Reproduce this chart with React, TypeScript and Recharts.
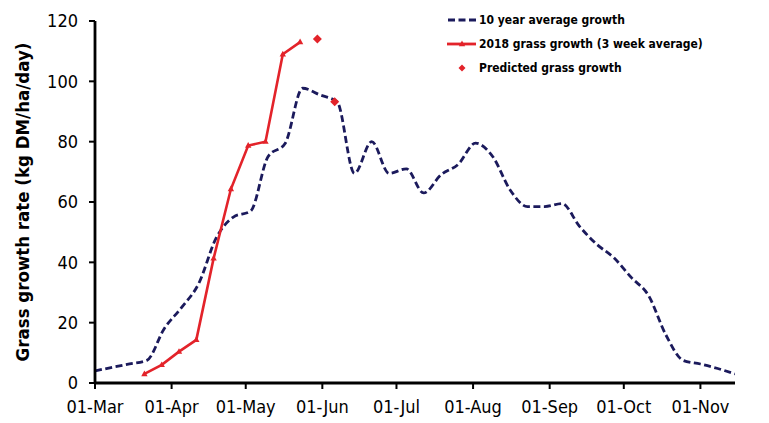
import React from 'react';
import { ComposedChart, Line, XAxis, YAxis } from 'recharts';

// x values are days counted from 01-Mar
const monthTicks = [0, 31, 61, 92, 122, 153, 184, 214, 245];
const monthLabels = ['01-Mar', '01-Apr', '01-May', '01-Jun', '01-Jul', '01-Aug', '01-Sep', '01-Oct', '01-Nov'];
const growthTicks = [0, 20, 40, 60, 80, 100, 120];

// 10 year average, weekly
const avgDays = [
  0, 7, 14, 21, 28, 35, 42, 49, 56, 63, 70, 77, 84, 91, 98, 105, 112, 119, 126,
  133, 140, 147, 154, 161, 168, 175, 182, 189, 196, 203, 210, 217, 224, 231, 238, 245, 252, 259,
];
const avgGrowth = [
  4, 5.2, 6.3, 7.5, 18, 25, 33, 48, 55, 57, 75, 79.5, 97.7, 95.5, 93.2, 69.5, 80, 69.5, 71,
  63, 69, 72.5, 79.5, 75, 64, 58.5, 58.5, 59.5, 52, 46, 41.5, 35, 29, 16, 7.5, 6.3, 4.8, 3,
];

// 2018, 3 week average
const days2018 = [20, 27, 34, 41, 48, 55, 62, 69, 76, 83];
const growth2018 = [3, 6, 10.4, 14.3, 41.3, 64.3, 78.7, 80, 109, 113];

// predicted
const predictedDays = [90, 97];
const predictedGrowth = [114, 93.2];

const avgData = avgDays.map((d, i) => ({ day: d, v: avgGrowth[i] }));
const data2018 = days2018.map((d, i) => ({ day: d, v: growth2018[i] }));
const predData = predictedDays.map((d, i) => ({ day: d, v: predictedGrowth[i] }));

const NAVY = '#1b1a5c';
const RED = '#e3232a';
const FONT = "'DejaVu Sans Condensed', 'DejaVu Sans', sans-serif";

const Triangle = (props: any) => {
  const { cx, cy, index } = props;
  if (cx == null || cy == null) return null;
  return <path key={`t-${index}`} d={`M${cx},${cy - 3.5} L${cx + 3.2},${cy + 2.2} L${cx - 3.2},${cy + 2.2} Z`} fill={RED} />;
};

const Diamond = (props: any) => {
  const { cx, cy, index } = props;
  if (cx == null || cy == null) return null;
  return <path key={`d-${index}`} d={`M${cx},${cy - 4.5} L${cx + 4.5},${cy} L${cx},${cy + 4.5} L${cx - 4.5},${cy} Z`} fill={RED} />;
};

const YLabel = () => (
  <text
    x={22}
    y={202}
    transform="rotate(-90, 22, 202)"
    textAnchor="middle"
    dominantBaseline="central"
    fontFamily={FONT}
    fontWeight="bold"
    fontSize={18.5}
    fill="#000"
  >
    Grass growth rate (kg DM/ha/day)
  </text>
);

const legendRows = [
  { name: '10 year average growth', kind: 'dash', y: 20 },
  { name: '2018 grass growth (3 week average)', kind: 'line', y: 43.5 },
  { name: 'Predicted grass growth', kind: 'dot', y: 67.5 },
];

const ChartLegend = () => (
  <div style={{ position: 'absolute', left: 446, top: 0, width: 320, height: 80 }}>
    {legendRows.map((r) => (
      <div key={r.name} style={{ position: 'absolute', left: 0, top: r.y - 9, height: 18, display: 'flex', alignItems: 'center' }}>
        <svg width={32} height={18}>
          {r.kind === 'dash' && <line x1={2} y1={9} x2={30} y2={9} stroke={NAVY} strokeWidth={2.8} strokeDasharray="7 3.5" />}
          {r.kind === 'line' && (
            <>
              <line x1={1} y1={9} x2={30} y2={9} stroke={RED} strokeWidth={2.8} />
              <path d="M16,5.5 L19.2,11.2 L12.8,11.2 Z" fill={RED} />
            </>
          )}
          {r.kind === 'dot' && <path d="M16,5.5 L19.5,9 L16,12.5 L12.5,9 Z" fill={RED} />}
        </svg>
        <span style={{ fontFamily: FONT, fontWeight: 'bold', fontSize: 12, color: '#000', marginLeft: 1, whiteSpace: 'nowrap' }}>
          {r.name}
        </span>
      </div>
    ))}
  </div>
);

export default function App() {
  return (
    <div style={{ position: 'absolute', left: 0, top: 0, width: 769, height: 423, background: '#fff' }}>
      <ComposedChart width={769} height={423} margin={{ top: 21, right: 34, bottom: 0, left: 0 }}>
        <XAxis
          dataKey="day"
          type="number"
          domain={[0, 259]}
          ticks={monthTicks}
          tickFormatter={(v: number) => monthLabels[monthTicks.indexOf(v)]}
          allowDataOverflow
          height={40}
          axisLine={{ stroke: '#000', strokeWidth: 2.8 }}
          tickLine={{ stroke: '#000', strokeWidth: 2 }}
          tickSize={6}
          tickMargin={11}
          tick={{ fill: '#000', fontSize: 18, fontFamily: FONT }}
          interval={0}
        />
        <YAxis
          type="number"
          domain={[0, 120]}
          ticks={growthTicks}
          width={95}
          axisLine={{ stroke: '#000', strokeWidth: 2.8 }}
          tickLine={{ stroke: '#000', strokeWidth: 2 }}
          tickSize={6}
          tickMargin={11}
          tick={{ fill: '#000', fontSize: 18, fontFamily: FONT }}
          interval={0}
          label={{ content: YLabel }}
        />
        <Line
          data={avgData}
          dataKey="v"
          type="monotone"
          stroke={NAVY}
          strokeWidth={2.8}
          strokeDasharray="7 3.5"
          dot={false}
          activeDot={false}
          isAnimationActive={false}
        />
        <Line
          data={data2018}
          dataKey="v"
          type="linear"
          stroke={RED}
          strokeWidth={2.6}
          dot={Triangle}
          activeDot={false}
          isAnimationActive={false}
        />
        <Line
          data={predData}
          dataKey="v"
          stroke="none"
          dot={Diamond}
          activeDot={false}
          isAnimationActive={false}
        />
      </ComposedChart>
      <ChartLegend />
    </div>
  );
}
